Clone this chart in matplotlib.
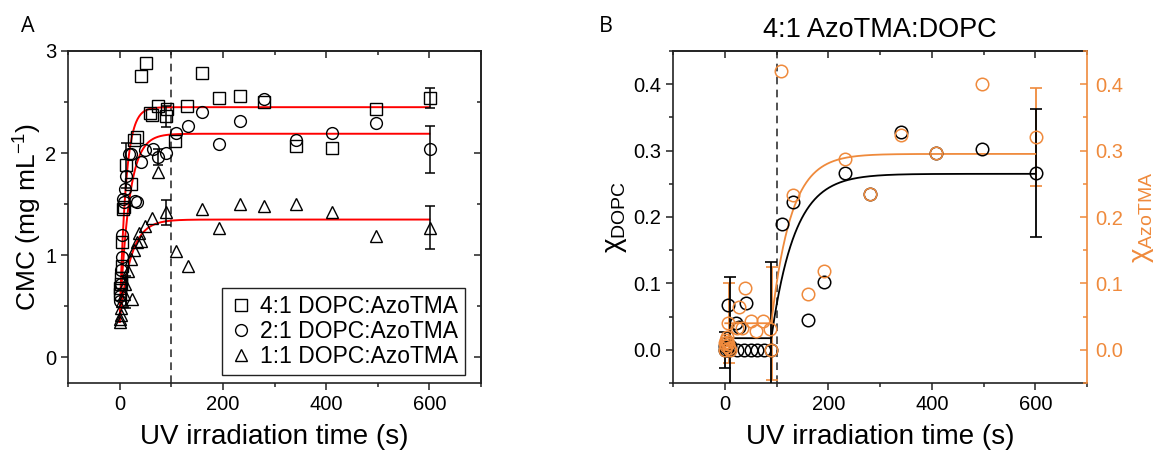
import numpy as np
import matplotlib
matplotlib.use("Agg")
import matplotlib.pyplot as plt
from matplotlib.ticker import MultipleLocator
from matplotlib.lines import Line2D

plt.rcParams['font.family'] = ['Liberation Sans', 'DejaVu Sans']
plt.rcParams['mathtext.fontset'] = 'custom'
plt.rcParams['mathtext.rm'] = 'Liberation Sans'
plt.rcParams['mathtext.it'] = 'Liberation Sans:italic'
plt.rcParams['mathtext.bf'] = 'Liberation Sans:bold'

# ---------------- Panel A: CMC vs UV irradiation time ----------------
sq_t = [0, 1, 2, 3, 4, 5, 6, 8, 12, 22, 28, 33, 42, 52, 59, 62, 74, 90, 92,
        108, 130, 160, 193, 233, 280, 341, 412, 497, 601]
sq_y = [0.62, 0.68, 0.72, 0.78, 0.90, 1.13, 1.45, 1.47, 1.88, 1.70, 2.13, 2.16,
        2.76, 2.88, 2.39, 2.37, 2.46, 2.36, 2.43, 2.12, 2.46, 2.78, 2.54, 2.56,
        2.50, 2.07, 2.05, 2.43, 2.54]

ci_t = [0, 1, 2, 3, 4, 5, 6, 8, 10, 13, 18, 22, 30, 33, 42, 50, 64, 75, 90,
        109, 132, 160, 193, 233, 280, 341, 412, 497, 601]
ci_y = [0.55, 0.60, 0.72, 0.86, 0.98, 1.20, 1.55, 1.52, 1.65, 1.78, 1.99, 1.99,
        1.53, 1.52, 1.91, 2.03, 2.04, 1.96, 2.00, 2.20, 2.27, 2.40, 2.09, 2.31,
        2.53, 2.13, 2.20, 2.30, 2.04]

tr_t = [0, 1, 2, 3, 5, 8, 10, 16, 22, 24, 28, 33, 38, 42, 50, 63, 75, 90,
        109, 132, 160, 193, 233, 280, 341, 412, 497, 601]
tr_y = [0.35, 0.38, 0.42, 0.48, 0.55, 0.62, 0.72, 0.85, 0.96, 0.57, 1.05, 1.13,
        1.22, 1.14, 1.29, 1.37, 1.82, 1.42, 1.04, 0.90, 1.45, 1.27, 1.50, 1.48,
        1.50, 1.42, 1.19, 1.27]

# error bars (time, value, error)
sq_err_t, sq_err_y, sq_err = [12, 90, 601], [1.88, 2.36, 2.54], [0.22, 0.10, 0.10]
ci_err_t, ci_err_y, ci_err = [75, 601], [1.96, 2.04], [0.08, 0.23]
tr_err_t, tr_err_y, tr_err = [13, 90, 601], [0.64, 1.42, 1.27], [0.16, 0.12, 0.21]

# exponential fits: start value, plateau, time constant (s)
fitA_start = [0.35, 0.35, 0.35]
fitA_plateau = [2.45, 2.19, 1.35]
fitA_tau = [12.0, 18.0, 22.0]

labelsA = ['4:1 DOPC:AzoTMA', '2:1 DOPC:AzoTMA', '1:1 DOPC:AzoTMA']
markersA = ['s', 'o', '^']

# ---------------- Panel B: mole fractions ----------------
dopc_t = [0, 1, 2, 3, 5, 6, 8, 10, 21, 23, 28, 37, 41, 50, 62, 75, 90,
          110, 131.5, 160, 192, 232, 280, 340, 409, 498, 601]
dopc_y = [0.0, 0.005, 0.0, 0.01, 0.003, 0.067, 0.0, 0.005, 0.041, 0.0, 0.034,
          0.0, 0.071, 0.0, 0.0, 0.0, 0.0, 0.189, 0.222, 0.045, 0.102, 0.267,
          0.234, 0.328, 0.297, 0.303, 0.266]

azo_t = [0, 1, 2, 3, 4, 5, 6, 7, 8, 10, 23, 27, 33, 40, 50, 60, 73, 88, 90,
         109, 131.5, 160, 192, 232, 280, 340, 409, 498, 601]
azo_y = [0.0, 0.01, 0.005, 0.015, 0.02, 0.012, 0.04, 0.008, 0.003, 0.0, 0.033,
         0.064, 0.033, 0.093, 0.043, 0.029, 0.043, 0.031, 0.0, 0.42, 0.233,
         0.084, 0.118, 0.288, 0.234, 0.323, 0.297, 0.40, 0.321]

dopc_err_t, dopc_err_y, dopc_err = [0, 11, 90, 601], [0.0, 0.0175, 0.0175, 0.266], [0.027, 0.092, 0.115, 0.096]
azo_err_t, azo_err_y, azo_err = [8, 92, 601], [0.04, 0.04, 0.321], [0.06, 0.085, 0.074]

# piecewise fits: flat baseline until onset, then exponential rise
onset = 90
dopc_fit = dict(start=11, base=0.0175, plateau=0.265, tau=45.0)
azo_fit = dict(start=1, base=0.040, plateau=0.295, tau=38.0)

ORANGE = '#EF8A3C'
SPINE = '#222222'
TICK_FS = 14.5
LABEL_FS = 20

W, H = 1160, 458
fig = plt.figure(figsize=(W / 100, H / 100), dpi=100)


def style_axes(ax, color=SPINE):
    for s in ax.spines.values():
        s.set_linewidth(1.2)
        s.set_color(color)
    ax.tick_params(which='both', direction='out', labelsize=TICK_FS, width=1.1,
                   color=color)
    ax.tick_params(which='major', length=5)
    ax.tick_params(which='minor', length=3)


def mirror_ticks(ax, xmaj, xmin, ymaj=None, ymin=None, ycolor=SPINE):
    top = ax.secondary_xaxis('top')
    top.xaxis.set_major_locator(MultipleLocator(xmaj))
    top.xaxis.set_minor_locator(MultipleLocator(xmin))
    top.tick_params(which='both', direction='in', labeltop=False, width=1.1,
                    color=SPINE)
    top.tick_params(which='major', length=5)
    top.tick_params(which='minor', length=3)
    top.spines['top'].set_linewidth(1.2)
    top.spines['top'].set_color(SPINE)
    if ymaj is not None:
        right = ax.secondary_yaxis('right')
        right.yaxis.set_major_locator(MultipleLocator(ymaj))
        right.yaxis.set_minor_locator(MultipleLocator(ymin))
        right.tick_params(which='both', direction='in', labelright=False,
                          width=1.1, color=ycolor)
        right.tick_params(which='major', length=5)
        right.tick_params(which='minor', length=3)
        right.spines['right'].set_linewidth(1.2)
        right.spines['right'].set_color(ycolor)


# ---- Panel A ----
axA = fig.add_axes([68 / W, (H - 383) / H, 413 / W, 332 / H])
axA.set_xlim(-100, 700)
axA.set_ylim(-0.25, 3.0)
style_axes(axA)
axA.xaxis.set_major_locator(MultipleLocator(200))
axA.xaxis.set_minor_locator(MultipleLocator(100))
axA.yaxis.set_major_locator(MultipleLocator(1))
axA.yaxis.set_minor_locator(MultipleLocator(0.5))
mirror_ticks(axA, 200, 100, 1, 0.5)

axA.axvline(100, color=SPINE, lw=1.1, ls=(0, (5, 3.5)), zorder=1)

tt = np.linspace(0, 600, 601)
for y0, p, tau in zip(fitA_start, fitA_plateau, fitA_tau):
    axA.plot(tt, y0 + (p - y0) * (1 - np.exp(-tt / tau)), color='#FF0000',
             lw=1.4, zorder=3)

mk = dict(ls='none', mfc='none', mec='black', mew=1.0, ms=8.5, zorder=4)
axA.plot(sq_t, sq_y, marker='s', **mk)
axA.plot(ci_t, ci_y, marker='o', **mk)
axA.plot(tr_t, tr_y, marker='^', **mk)
eb = dict(fmt='none', ecolor='black', elinewidth=1.1, capsize=3.5, capthick=1.1,
          zorder=3)
axA.errorbar(sq_err_t, sq_err_y, yerr=sq_err, **eb)
axA.errorbar(ci_err_t, ci_err_y, yerr=ci_err, **eb)
axA.errorbar(tr_err_t, tr_err_y, yerr=tr_err, **eb)

axA.set_xlabel('UV irradiation time (s)', fontsize=LABEL_FS, labelpad=7)
axA.set_ylabel('CMC (mg mL$^{-1}$)', fontsize=19, labelpad=1)

handles = [Line2D([], [], marker=m, ls='none', mfc='none', mec='black',
                  mew=1.0, ms=8.5) for m in markersA]
leg = axA.legend(handles, labelsA, loc='lower right',
                 bbox_to_anchor=(0.962, 0.024), borderaxespad=0,
                 fontsize=16.5, frameon=True, fancybox=False, framealpha=1,
                 edgecolor=SPINE, handlelength=1.0, handletextpad=0.35,
                 labelspacing=0.1, borderpad=0.3)
leg.get_frame().set_linewidth(1.0)

# ---- Panel B ----
axB = fig.add_axes([673 / W, (H - 383) / H, 414 / W, 332 / H])
axB.set_xlim(-100, 700)
axB.set_ylim(-0.05, 0.45)
style_axes(axB)
axB.xaxis.set_major_locator(MultipleLocator(200))
axB.xaxis.set_minor_locator(MultipleLocator(100))
axB.yaxis.set_major_locator(MultipleLocator(0.1))
axB.yaxis.set_minor_locator(MultipleLocator(0.05))
mirror_ticks(axB, 200, 100)
axB.spines['right'].set_visible(False)

# right-hand axis for the AzoTMA fraction (same scale); all panel B data
# live on this axes so the drawing order can be controlled in one place
axR = axB.twinx()
axR.set_ylim(-0.05, 0.45)
axR.yaxis.set_major_locator(MultipleLocator(0.1))
axR.yaxis.set_minor_locator(MultipleLocator(0.05))
for s in ['left', 'top', 'bottom']:
    axR.spines[s].set_visible(False)
axR.spines['right'].set_color(ORANGE)
axR.spines['right'].set_linewidth(1.2)
axR.tick_params(which='both', direction='in', color=ORANGE, labelcolor=ORANGE,
                labelsize=TICK_FS, width=1.1, pad=6)
axR.tick_params(which='major', length=5)
axR.tick_params(which='minor', length=3)

axR.axvline(100, color=SPINE, lw=1.1, ls=(0, (5, 3.5)), zorder=1)


def piecewise(fit):
    t = np.linspace(fit['start'], 600, 800)
    y = np.where(t <= onset, fit['base'],
                 fit['base'] + (fit['plateau'] - fit['base'])
                 * (1 - np.exp(-(t - onset) / fit['tau'])))
    return t, y


mkB = dict(ls='none', mfc='none', mew=1.1, ms=9, marker='o')
axR.errorbar(azo_err_t, azo_err_y, yerr=azo_err, fmt='none', ecolor=ORANGE,
             elinewidth=1.3, capsize=4, capthick=1.2, zorder=2)
axR.errorbar(dopc_err_t, dopc_err_y, yerr=dopc_err, fmt='none', ecolor='black',
             elinewidth=1.3, capsize=4, capthick=1.2, zorder=3)
t1, y1 = piecewise(dopc_fit)
axR.plot(t1, y1, color='black', lw=1.3, zorder=3)
t2, y2 = piecewise(azo_fit)
axR.plot(t2, y2, color=ORANGE, lw=1.3, zorder=3)
axR.plot(dopc_t, dopc_y, mec='black', zorder=4, **mkB)
axR.plot(azo_t, azo_y, mec=ORANGE, zorder=4, **mkB)

axB.set_xlabel('UV irradiation time (s)', fontsize=LABEL_FS, labelpad=7)
axB.set_ylabel('χ$_{\\mathrm{DOPC}}$', fontsize=20, labelpad=3)
axR.set_ylabel('χ$_{\\mathrm{AzoTMA}}$', fontsize=20, color=ORANGE, labelpad=5)
axB.set_title('4:1 AzoTMA:DOPC', fontsize=19.5, pad=10)

fig.text(28 / W, 1 - 27 / H, 'A', fontsize=15.5, ha='center', va='center',
         family=['Open Sans', 'DejaVu Sans'])
fig.text(606 / W, 1 - 27 / H, 'B', fontsize=15.5, ha='center', va='center',
         family=['Open Sans', 'DejaVu Sans'])

fig.savefig('out.png', dpi=100)
